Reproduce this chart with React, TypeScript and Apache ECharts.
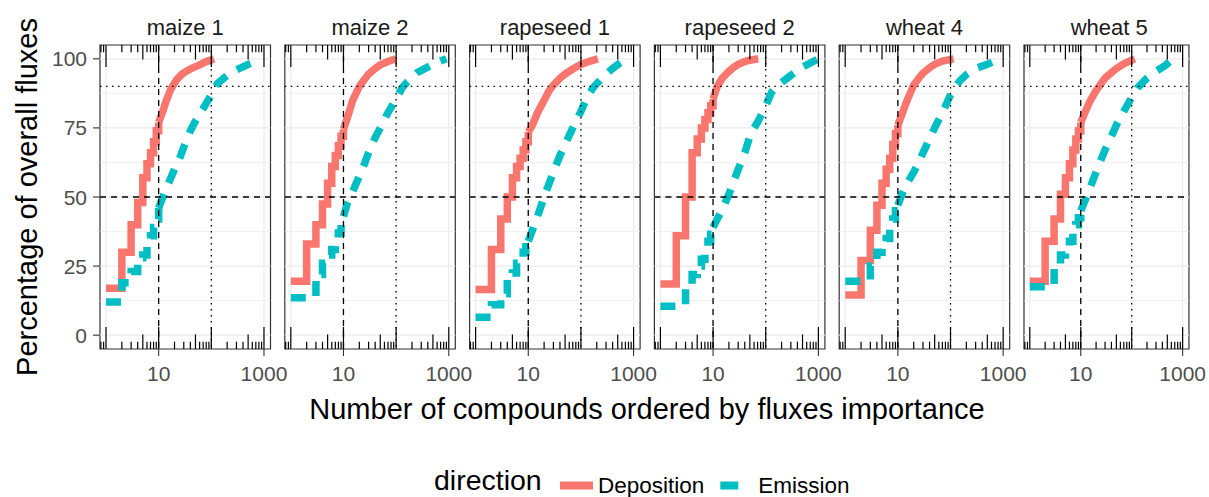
import React, { useEffect, useRef } from 'react';
import * as echarts from 'echarts';

const FONT = "'Liberation Sans', Arial, Helvetica, sans-serif";

const panelNames = ['maize 1', 'maize 2', 'rapeseed 1', 'rapeseed 2', 'wheat 4', 'wheat 5'];

// [rank, cumulative % of overall fluxes]
const maize1Deposition = [[1,17],[2,30],[3,40],[4,48],[5,57],[6,62],[7,66],[8,70],[9,74],[10,77],[12,81],[14,85],[17,89],[22,92.5],[28,94.5],[35,95.7],[45,96.8],[60,97.8],[80,99],[100,99.6],[112,100]];
const maize1Emission = [[1,12],[2,19],[3,23],[4,28],[5,29],[6,33],[7,36],[8,39],[9,42],[10,46],[12,50],[15,54.5],[20,60],[25,64],[30,68],[40,74],[50,77.5],[70,82],[100,87],[130,91],[200,94],[300,96],[500,98],[700,99],[900,100]];
const maize2Deposition = [[1,19.5],[2,33],[3,40],[4,47.5],[5,55],[6,61],[7,65],[8,68.5],[9,72],[10,74.5],[12,79],[15,85],[20,90],[25,92.5],[30,94.5],[40,96.5],[50,97.8],[70,99],[98,100]];
const maize2Emission = [[1,13.5],[2,14],[3,22],[4,26],[5,29],[6,31],[7,34],[8,37],[9,40],[10,43],[12,48],[15,52],[20,57.5],[25,62],[30,66],[40,71.5],[50,75],[70,80.5],[100,85.5],[130,89.5],[160,91.5],[250,95],[400,97],[600,98.7],[900,100]];
const rapeseed1Deposition = [[1,16.5],[2,31],[3,42],[4,50],[5,57],[6,61],[7,64],[8,67],[9,70],[10,73.5],[12,76],[15,80.5],[20,85],[25,88.5],[30,90.5],[40,93],[50,94.5],[70,96.3],[100,98],[150,99.2],[210,100]];
const rapeseed1Emission = [[1,6.5],[2,11],[3,15],[4,20],[5,22.5],[6,26],[7,28],[8,30],[9,32],[10,34],[12,38],[15,43],[20,50],[25,55],[30,59],[40,65],[50,69],[70,75],[100,81],[130,86],[170,89.5],[250,93],[400,96.5],[550,98.5],[720,100]];
const rapeseed2Deposition = [[1,18.5],[2,36],[3,50],[4,66],[5,71],[6,75],[7,78],[8,80.5],[9,83],[10,85.5],[12,90],[15,93],[20,95.5],[25,97],[30,98],[40,99],[50,99.5],[72,100]];
const rapeseed2Emission = [[1,10.5],[2,11],[3,17],[4,22],[5,25],[6,27.5],[7,31],[8,34],[9,36.5],[10,39],[12,42],[15,45.5],[20,51],[25,56],[30,60],[40,66],[50,72],[60,75],[70,77],[100,83],[130,88],[150,89.5],[200,91.5],[300,94],[500,97],[700,98.5],[1000,100]];
const wheat4Deposition = [[1,14.5],[2,27],[3,38],[4,47],[5,55],[6,60],[7,64],[8,69],[9,73],[10,76],[12,80],[15,85],[20,90.5],[25,93],[30,94.8],[40,96.8],[50,98],[70,99.2],[115,100]];
const wheat4Emission = [[1,19.5],[2,20],[3,25],[4,30],[5,33],[6,35],[7,39],[8,42],[9,45],[10,47],[12,51],[15,55],[20,59],[25,62.5],[30,66],[40,71],[50,75],[60,78],[70,80.5],[85,84],[100,87],[125,90],[150,92],[200,94.3],[300,96.5],[500,98],[700,99.2],[950,100]];
const wheat5Deposition = [[1,19.5],[2,34],[3,42],[4,51],[5,57],[6,62],[7,67],[8,71],[9,74],[10,77],[12,80.5],[15,84.5],[20,88.5],[25,91],[30,93],[40,95],[50,96.5],[70,98.2],[100,99.5],[115,100]];
const wheat5Emission = [[1,17.5],[2,18],[3,24],[4,29],[5,32],[6,34],[7,37],[8,40],[9,42.5],[10,45],[12,48.5],[15,53],[20,59],[25,63.5],[30,67],[40,72],[50,76],[70,81],[100,86],[130,89.5],[200,93],[300,95.5],[450,97.5],[650,100]];

const depositionByPanel = [maize1Deposition, maize2Deposition, rapeseed1Deposition, rapeseed2Deposition, wheat4Deposition, wheat5Deposition];
const emissionByPanel = [maize1Emission, maize2Emission, rapeseed1Emission, rapeseed2Emission, wheat4Emission, wheat5Emission];

const xTickLabels = [10, 1000];
const yTickLabels = [0, 25, 50, 75, 100];
const yMinorGrid = [12.5, 37.5, 62.5, 87.5];
const xGridLines = [1, 10, 100, 1000];
const logTicks = [0.8, 0.9, 1, 2, 3, 4, 5, 6, 7, 8, 9, 10, 20, 30, 40, 50, 60, 70, 80, 90, 100, 200, 300, 400, 500, 600, 700, 800, 900, 1000];
const refY = [[50, 0], [90, 1]]; // value, 0 = dashed, 1 = dotted
const refX = [[10, 0], [100, 1]];

const STEP_LIMIT = 10;
const X_MIN = 0.769;
const X_MAX = 1330;
const Y_MIN = -5;
const Y_MAX = 105;

const RED = '#F8766D';
const TEAL = '#00BFC4';

const DASHES = [[6, 5], [1.5, 4.5]];

function buildOption() {
  const grids: any[] = [];
  const xAxes: any[] = [];
  const yAxes: any[] = [];
  const series: any[] = [];
  const graphics: any[] = [];

  panelNames.forEach((name, i) => {
    const left = 100 + 184.8 * i;
    const width = 170.5;
    grids.push({
      left, top: 45, width, height: 304,
      show: true, borderColor: '#333333', borderWidth: 1.2, backgroundColor: '#ffffff',
      containLabel: false,
    });
    xAxes.push({
      type: 'log', logBase: 10, gridIndex: i, min: X_MIN, max: X_MAX,
      axisLine: { show: false }, axisTick: { show: false }, splitLine: { show: false },
      axisLabel: {
        show: true, margin: 14, fontSize: 21, color: '#4D4D4D', fontFamily: FONT,
        formatter: (v: number) => {
          const r = Math.round(v);
          return xTickLabels.includes(r) && Math.abs(v - r) < 1e-6 ? String(r) : '';
        },
      },
    });
    if (i === 0) {
      yAxes.push({
        type: 'value', gridIndex: i, min: Y_MIN, max: Y_MAX, interval: 5,
        axisLine: { show: false }, axisTick: { show: false }, splitLine: { show: false },
        axisLabel: {
          show: true, margin: 13, fontSize: 21, color: '#4D4D4D', fontFamily: FONT,
          formatter: (v: number) => {
            const r = Math.round(v);
            return yTickLabels.includes(r) && Math.abs(v - r) < 1e-6 ? String(r) : '';
          },
        },
      });
    } else {
      yAxes.push({ type: 'value', gridIndex: i, min: Y_MIN, max: Y_MAX, show: false, splitLine: { show: false } });
    }

    // background grid lines
    series.push({
      type: 'custom', xAxisIndex: i, yAxisIndex: i, z: 1, silent: true,
      data: [...yTickLabels.map((v) => [1, v, 1]), ...yMinorGrid.map((v) => [1, v, 0])],
      renderItem: (params: any, api: any) => {
        const cs = params.coordSys;
        const y = api.coord([1, api.value(1)])[1];
        const major = api.value(2) === 1;
        return {
          type: 'line', shape: { x1: cs.x, y1: y, x2: cs.x + cs.width, y2: y },
          style: { stroke: '#EBEBEB', lineWidth: major ? 1.3 : 0.7 },
        };
      },
    });
    series.push({
      type: 'custom', xAxisIndex: i, yAxisIndex: i, z: 1, silent: true,
      data: xGridLines.map((v) => [v, 50]),
      renderItem: (params: any, api: any) => {
        const cs = params.coordSys;
        const x = api.coord([api.value(0), 50])[0];
        return {
          type: 'line', shape: { x1: x, y1: cs.y, x2: x, y2: cs.y + cs.height },
          style: { stroke: '#EBEBEB', lineWidth: 1.1 },
        };
      },
    });

    // data: step part (low ranks) + continuation
    const dep = depositionByPanel[i];
    const emi = emissionByPanel[i];
    const mk = (nm: string, data: number[][], color: string, dashed: boolean, step: boolean, z: number) => ({
      type: 'line', name: nm, xAxisIndex: i, yAxisIndex: i, z,
      data: data.filter(([r]) => (step ? r <= STEP_LIMIT : r >= STEP_LIMIT)),
      step: step ? 'end' : false,
      showSymbol: false, symbol: 'none', silent: true, color,
      itemStyle: { color },
      lineStyle: { color, width: 7.5, type: dashed ? [15, 12] : 'solid', cap: 'butt', join: 'miter' },
    });
    series.push(mk('Deposition', dep, RED, false, true, 2));
    series.push(mk('Deposition', dep, RED, false, false, 2));
    series.push(mk('Emission', emi, TEAL, true, true, 3));
    series.push(mk('Emission', emi, TEAL, true, false, 3));

    // reference lines
    series.push({
      type: 'custom', xAxisIndex: i, yAxisIndex: i, z: 10, silent: true,
      data: refY.map(([v, k]) => [1, v, k]),
      renderItem: (params: any, api: any) => {
        const cs = params.coordSys;
        const y = api.coord([1, api.value(1)])[1];
        return {
          type: 'line', shape: { x1: cs.x, y1: y, x2: cs.x + cs.width, y2: y },
          style: { stroke: '#000', lineWidth: 1.3, lineDash: DASHES[api.value(2)] },
        };
      },
    });
    series.push({
      type: 'custom', xAxisIndex: i, yAxisIndex: i, z: 10, silent: true,
      data: refX.map(([v, k]) => [v, 50, k]),
      renderItem: (params: any, api: any) => {
        const cs = params.coordSys;
        const x = api.coord([api.value(0), 50])[0];
        return {
          type: 'line', shape: { x1: x, y1: cs.y, x2: x, y2: cs.y + cs.height },
          style: { stroke: '#000', lineWidth: 1.3, lineDash: DASHES[api.value(2)] },
        };
      },
    });

    // log ticks (top & bottom, inside) + outside ticks at labelled breaks
    series.push({
      type: 'custom', xAxisIndex: i, yAxisIndex: i, z: 11, silent: true, clip: false,
      data: logTicks.map((v) => [v, 50]),
      renderItem: (params: any, api: any) => {
        const cs = params.coordSys;
        const v = api.value(0);
        const x = api.coord([v, 50])[0];
        const mag = Math.pow(10, Math.floor(Math.log10(v) + 1e-9));
        const lead = Math.round(v / mag);
        const len = lead === 1 ? 22 : lead === 5 ? 14.6 : 7.3;
        const top = cs.y;
        const bottom = cs.y + cs.height;
        const st = { stroke: '#000', lineWidth: 1.2 };
        const children: any[] = [
          { type: 'line', shape: { x1: x, y1: bottom, x2: x, y2: bottom - len }, style: st },
          { type: 'line', shape: { x1: x, y1: top, x2: x, y2: top + len }, style: st },
        ];
        if (xTickLabels.some((t) => Math.abs(t - v) < 1e-6)) {
          children.push({ type: 'line', shape: { x1: x, y1: bottom, x2: x, y2: bottom + 7 }, style: { stroke: '#333', lineWidth: 1.1 } });
        }
        return { type: 'group', children };
      },
    });

    if (i === 0) {
      series.push({
        type: 'custom', xAxisIndex: i, yAxisIndex: i, z: 11, silent: true, clip: false,
        data: yTickLabels.map((v) => [1, v]),
        renderItem: (params: any, api: any) => {
          const cs = params.coordSys;
          const y = api.coord([1, api.value(1)])[1];
          return {
            type: 'line', shape: { x1: cs.x - 7, y1: y, x2: cs.x, y2: y },
            style: { stroke: '#333', lineWidth: 1.1 },
          };
        },
      });
    }

    graphics.push({
      type: 'text', x: left + width / 2, y: 27.5, silent: true,
      style: { text: name, fontSize: 22, fontFamily: FONT, fill: '#1A1A1A', align: 'center', verticalAlign: 'middle' },
    });
  });

  graphics.push({
    type: 'text', x: 647, y: 409, silent: true,
    style: { text: 'Number of compounds ordered by fluxes importance', fontSize: 29, fontFamily: FONT, fill: '#000', align: 'center', verticalAlign: 'middle' },
  });
  graphics.push({
    type: 'text', x: 27, y: 197, rotation: Math.PI / 2, silent: true,
    style: { text: 'Percentage of overall fluxes', fontSize: 29, fontFamily: FONT, fill: '#000', align: 'center', verticalAlign: 'middle' },
  });
  graphics.push({
    type: 'text', x: 434, y: 480, silent: true,
    style: { text: 'direction', fontSize: 28.5, fontFamily: FONT, fill: '#000', align: 'left', verticalAlign: 'middle' },
  });

  return {
    animation: false,
    backgroundColor: '#ffffff',
    grid: grids,
    xAxis: xAxes,
    yAxis: yAxes,
    series,
    graphic: graphics,
    legend: {
      left: 560, top: 474, padding: 0, itemGap: 16, itemWidth: 33, itemHeight: 8,
      selectedMode: false,
      textStyle: { fontSize: 22.5, lineHeight: 20, color: '#000', fontFamily: FONT },
      itemStyle: { borderWidth: 0 },
      data: [
        { name: 'Deposition', icon: 'rect' },
        { name: 'Emission', icon: 'path://M0,0H18V8H0Z M33,0V8' },
      ],
    },
  };
}

export default function App() {
  const ref = useRef<HTMLDivElement>(null);
  useEffect(() => {
    if (!ref.current) return;
    const chart = echarts.init(ref.current, null, { renderer: 'svg' });
    chart.setOption(buildOption() as any);
    return () => chart.dispose();
  }, []);
  return (
    <div
      ref={ref}
      style={{ position: 'absolute', left: 0, top: 0, width: 1209, height: 497, background: '#fff' }}
    />
  );
}
